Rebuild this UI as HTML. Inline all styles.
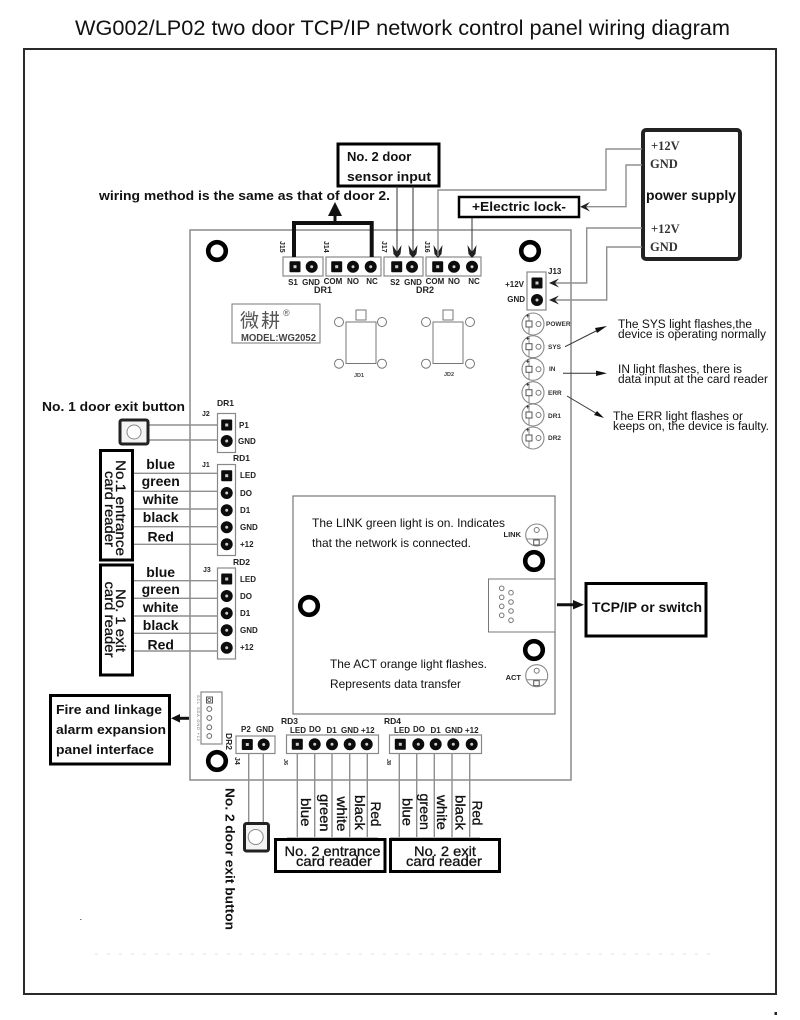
<!DOCTYPE html>
<html lang="en">
<head>
<meta charset="utf-8">
<title>WG002/LP02 wiring diagram</title>
<style>
html,body{margin:0;padding:0;background:#fff;width:800px;height:1020px;overflow:hidden}
svg{display:block;filter:blur(.3px)}
text{font-family:"Liberation Sans","Noto Sans CJK SC",sans-serif;fill:#111}
.b{font-weight:bold;font-size:13px}
.m{font-size:14px;stroke:#111;stroke-width:.3}
.s{font-size:8px;font-weight:bold;fill:#222}
.j{font-size:7px;font-weight:bold;fill:#222}
.c{font-size:14px;font-weight:bold}
.le{font-size:6.5px;font-weight:bold;fill:#333}
.l{font-size:12px}
.n{font-size:11.5px}
.sf{font-family:"Liberation Serif",serif;font-weight:bold;font-size:12.5px;fill:#333}
.w{fill:none;stroke:#8f8f8f;stroke-width:1.4}
.d{fill:none;stroke:#333;stroke-width:1}
.bx{fill:#fff;stroke:#000;stroke-width:3}
.g{fill:#fff;stroke:#888;stroke-width:1.2}
</style>
</head>
<body>
<svg xmlns="http://www.w3.org/2000/svg" width="800" height="1020" viewBox="0 0 800 1020">
<defs>
  <g id="sq"><rect x="-5.5" y="-5.5" width="11" height="11" rx="1" fill="#0c0c0c"/><rect x="-1.5" y="-1.5" width="3" height="3" fill="#ccc"/></g>
  <g id="rd"><circle r="6" fill="#0c0c0c"/><circle r="1.5" fill="#ccc"/></g>
  <g id="hole"><circle r="8.8" fill="#fff" stroke="#000" stroke-width="4.6"/></g>
  <path id="barb" d="M-4.5,-10 L0,-3 L4.5,-10 L3.5,-1 L0,3 L-3.5,-1 Z" fill="#222"/>
  <g id="led">
    <circle r="11" fill="#fff" stroke="#888" stroke-width="1.1"/>
    <path d="M-4,-10 V10" fill="none" stroke="#888" stroke-width="1"/>
    <rect x="-7" y="-3" width="6" height="6" fill="#fff" stroke="#555" stroke-width="1"/>
    <circle cx="5.5" r="2.5" fill="#fff" stroke="#777" stroke-width="1"/>
    <text x="-7" y="-6" style="font-size:6px;font-weight:bold">+</text>
  </g>
  <g id="led2">
    <circle r="11" fill="#fff" stroke="#888" stroke-width="1.1"/>
    <path d="M-10,4 H10" fill="none" stroke="#888" stroke-width="1"/>
    <rect x="-3" y="5" width="5.5" height="5" fill="#fff" stroke="#555" stroke-width="1"/>
    <circle cy="-5" r="2.5" fill="#fff" stroke="#777" stroke-width="1"/>
  </g>
</defs>

<rect width="800" height="1020" fill="#fff"/>

<text x="75" y="35" style="font-size:21px;fill:#111" textLength="655" lengthAdjust="spacingAndGlyphs">WG002/LP02 two door TCP/IP network control panel wiring diagram</text>

<rect x="24" y="49" width="752" height="945" fill="#fff" stroke="#2a2a2a" stroke-width="2"/>
<rect x="774.5" y="1012" width="2.5" height="3" fill="#222"/>
<rect x="80" y="919" width="1.5" height="1" fill="#777"/>
<path d="M95,954 H715" stroke="#e2e2e2" stroke-width="1" stroke-dasharray="3 9" fill="none"/>

<!-- board -->
<rect x="190" y="230" width="381" height="550" fill="#fff" stroke="#8a8a8a" stroke-width="1.5"/>
<use href="#hole" x="217" y="251"/>
<use href="#hole" x="530" y="251"/>
<use href="#hole" x="217" y="761"/>

<!-- top connectors -->
<rect class="g" x="283" y="257" width="40" height="19"/>
<rect class="g" x="326" y="257" width="55" height="19"/>
<rect class="g" x="384" y="257" width="39" height="19"/>
<rect class="g" x="426" y="257" width="55" height="19"/>
<use href="#sq" x="295" y="266.7"/><use href="#rd" x="311.7" y="266.7"/>
<use href="#sq" x="336.7" y="266.7"/><use href="#rd" x="353" y="266.7"/><use href="#rd" x="370.7" y="266.7"/>
<use href="#sq" x="396.7" y="266.7"/><use href="#rd" x="412" y="266.7"/>
<use href="#sq" x="437.7" y="266.7"/><use href="#rd" x="454" y="266.7"/><use href="#rd" x="472" y="266.7"/>

<text class="s" x="293" y="285" text-anchor="middle">S1</text>
<text class="s" x="311" y="285" text-anchor="middle">GND</text>
<text class="s" x="333" y="284" text-anchor="middle">COM</text>
<text class="s" x="353" y="284" text-anchor="middle">NO</text>
<text class="s" x="372" y="284" text-anchor="middle">NC</text>
<text class="s" x="395" y="285" text-anchor="middle">S2</text>
<text class="s" x="413" y="285" text-anchor="middle">GND</text>
<text class="s" x="435" y="284" text-anchor="middle">COM</text>
<text class="s" x="454" y="284" text-anchor="middle">NO</text>
<text class="s" x="474" y="284" text-anchor="middle">NC</text>
<text x="323" y="293" text-anchor="middle" style="font-size:9px;font-weight:bold;fill:#222">DR1</text>
<text x="425" y="293" text-anchor="middle" style="font-size:9px;font-weight:bold;fill:#222">DR2</text>
<text class="j" transform="translate(280,241) rotate(90)">J15</text>
<text class="j" transform="translate(324,241) rotate(90)">J14</text>
<text class="j" transform="translate(382,241) rotate(90)">J17</text>
<text class="j" transform="translate(425,241) rotate(90)">J16</text>

<!-- thick bracket + arrow -->
<path d="M294,257 V223 H371.7 V257" fill="none" stroke="#111" stroke-width="4"/>
<path d="M335,222 V212" fill="none" stroke="#111" stroke-width="3"/>
<path d="M335,202 L342,216 L328,216 Z" fill="#111"/>
<text class="b" x="99" y="200" textLength="291" lengthAdjust="spacingAndGlyphs">wiring method is the same as that of door 2.</text>

<!-- sensor box -->
<rect class="bx" x="338" y="144" width="101" height="42"/>
<text class="b" x="347" y="161">No. 2 door</text>
<text class="b" x="347" y="181" textLength="84" lengthAdjust="spacingAndGlyphs">sensor input</text>
<path class="d" d="M397,186 V256 M413,186 V256 M472,217 V256"/>
<use href="#barb" x="397" y="255"/><use href="#barb" x="413" y="255"/><use href="#barb" x="438" y="255"/><use href="#barb" x="472" y="255"/>

<!-- electric lock -->
<rect class="bx" x="459" y="197" width="120" height="20" style="stroke-width:2.5"/>
<text class="b" x="472" y="211" textLength="94" lengthAdjust="spacingAndGlyphs">+Electric lock-</text>

<!-- power supply -->
<rect x="643" y="130" width="97" height="129" rx="3" fill="#fff" stroke="#222" stroke-width="4"/>
<text class="sf" x="651" y="150">+12V</text>
<text class="sf" x="650" y="168">GND</text>
<text x="646" y="200" style="font-size:14px;font-weight:bold" textLength="90" lengthAdjust="spacingAndGlyphs">power supply</text>
<text class="sf" x="651" y="233">+12V</text>
<text class="sf" x="650" y="251">GND</text>
<path class="w" d="M438,256 V190 H606 V149 H642"/>
<path class="w" d="M642,165 H626 V206.7 H582"/>
<path class="w" d="M642,228 H586.7 V283 H552"/>
<path class="w" d="M642,247 H606.7 V300 H552"/>
<g fill="#222">
<path d="M580,206.7 L590,202 L586,206.7 L590,211.5 Z"/>
<path d="M549,283 L559,278.5 L555,283 L559,287.5 Z"/>
<path d="M549,300 L559,295.5 L555,300 L559,304.5 Z"/>
</g>

<!-- J13 -->
<rect class="g" x="527" y="272" width="19" height="38"/>
<use href="#sq" x="537" y="283"/><use href="#rd" x="537" y="300"/>
<text class="s" x="548" y="274">J13</text>
<text class="s" x="524" y="287" text-anchor="end">+12V</text>
<text class="s" x="525" y="302" text-anchor="end">GND</text>

<!-- LEDs -->
<use href="#led" x="533" y="324"/><use href="#led" x="533" y="346.7"/><use href="#led" x="533" y="369.3"/>
<use href="#led" x="533" y="392.7"/><use href="#led" x="533" y="415"/><use href="#led" x="533" y="438"/>
<text class="le" x="546" y="326">POWER</text>
<text class="le" x="548" y="349">SYS</text>
<text class="le" x="549" y="371">IN</text>
<text class="le" x="548" y="395">ERR</text>
<text class="le" x="548" y="418">DR1</text>
<text class="le" x="548" y="440">DR2</text>

<!-- annotation arrows -->
<path class="d" d="M565,346.7 L600,329 M563,373.3 L600,373.3 M567,396 L599,415"/>
<path d="M607,326 L597,333 L595,328 Z" fill="#111"/>
<path d="M607,373.3 L596,376 L596,370.6 Z" fill="#111"/>
<path d="M604,418 L594,415 L597,411 Z" fill="#111"/>
<text class="n" x="618" y="328" textLength="134" lengthAdjust="spacingAndGlyphs">The SYS light flashes,the</text>
<text class="n" x="618" y="338" textLength="148" lengthAdjust="spacingAndGlyphs">device is operating normally</text>
<text class="n" x="618" y="373" textLength="124" lengthAdjust="spacingAndGlyphs">IN light flashes, there is</text>
<text class="n" x="618" y="383" textLength="150" lengthAdjust="spacingAndGlyphs">data input at the card reader</text>
<text class="n" x="613" y="420" textLength="130" lengthAdjust="spacingAndGlyphs">The ERR light flashes or</text>
<text class="n" x="613" y="430" textLength="156" lengthAdjust="spacingAndGlyphs">keeps on, the device is faulty.</text>

<!-- logo -->
<rect x="232" y="304" width="88" height="39" fill="#fff" stroke="#777" stroke-width="1"/>
<text x="240" y="327" style="font-size:19px;fill:#555" textLength="40">微耕</text>
<text x="283" y="316" style="font-size:9px;fill:#555">®</text>
<text x="241" y="341" style="font-size:10px;font-weight:bold;fill:#444" textLength="75" lengthAdjust="spacingAndGlyphs">MODEL:WG2052</text>

<!-- relays -->
<g fill="#fff" stroke="#777" stroke-width="1">
<rect x="346" y="322" width="30" height="41.5"/><rect x="356" y="310" width="10" height="10"/>
<circle cx="339" cy="322" r="4.5"/><circle cx="382" cy="322" r="4.5"/><circle cx="339" cy="363.7" r="4.5"/><circle cx="382" cy="363.7" r="4.5"/>
<rect x="433" y="322" width="30" height="41.5"/><rect x="443" y="310" width="10" height="10"/>
<circle cx="426" cy="322" r="4.5"/><circle cx="470" cy="322" r="4.5"/><circle cx="426" cy="363.7" r="4.5"/><circle cx="470" cy="363.7" r="4.5"/>
</g>
<text x="359" y="377" text-anchor="middle" style="font-size:5.5px;font-weight:bold;fill:#444">JD1</text>
<text x="449" y="376" text-anchor="middle" style="font-size:5.5px;font-weight:bold;fill:#444">JD2</text>

<!-- left side: J2 -->
<text class="b" x="42" y="411" textLength="143" lengthAdjust="spacingAndGlyphs">No. 1 door exit button</text>
<path class="w" d="M148,425 H218 M148,440 H218"/>
<rect x="120" y="420" width="28" height="24" rx="2" fill="#f4f4f4" stroke="#222" stroke-width="3"/>
<circle cx="134" cy="432" r="7" fill="#fff" stroke="#888" stroke-width="1"/>
<rect class="g" x="217.5" y="413.5" width="18" height="39"/>
<use href="#sq" x="226.7" y="425"/><use href="#rd" x="226.7" y="441"/>
<text class="s" x="239" y="428">P1</text>
<text class="s" x="238" y="444">GND</text>
<text x="217" y="406" style="font-size:8.5px;font-weight:bold;fill:#222">DR1</text>
<text class="j" x="202" y="416">J2</text>

<!-- J1 -->
<rect class="g" x="217.5" y="464.5" width="18" height="91"/>
<use href="#sq" x="226.7" y="475.7"/><use href="#rd" x="226.7" y="493"/><use href="#rd" x="226.7" y="510.3"/><use href="#rd" x="226.7" y="527.3"/><use href="#rd" x="226.7" y="544.3"/>
<text class="s" x="240" y="478">LED</text><text class="s" x="240" y="496">DO</text><text class="s" x="240" y="513">D1</text><text class="s" x="240" y="530">GND</text><text class="s" x="240" y="547">+12</text>
<text x="233" y="461" style="font-size:8.5px;font-weight:bold;fill:#222">RD1</text>
<text class="j" x="202" y="467">J1</text>
<!-- J3 -->
<rect class="g" x="217.5" y="568" width="18" height="91"/>
<use href="#sq" x="226.7" y="579"/><use href="#rd" x="226.7" y="596"/><use href="#rd" x="226.7" y="613.3"/><use href="#rd" x="226.7" y="630.3"/><use href="#rd" x="226.7" y="647.7"/>
<text class="s" x="240" y="582">LED</text><text class="s" x="240" y="599">DO</text><text class="s" x="240" y="616">D1</text><text class="s" x="240" y="633">GND</text><text class="s" x="240" y="650">+12</text>
<text x="233" y="565" style="font-size:8.5px;font-weight:bold;fill:#222">RD2</text>
<text class="j" x="203" y="572">J3</text>

<path class="w" d="M133,473.3 H218 M133,491.3 H218 M133,509 H218 M133,526.7 H218 M133,544.3 H218 M133,580.7 H218 M133,598.3 H218 M133,616 H218 M133,633.3 H218 M133,651 H218"/>

<rect class="bx" x="100.5" y="450.5" width="32" height="109.5"/>
<rect class="bx" x="100.5" y="565" width="32" height="110"/>
<text class="m" transform="translate(116,460) rotate(90)" textLength="96" lengthAdjust="spacingAndGlyphs">No.1 entrance</text>
<text class="m" transform="translate(105,471) rotate(90)" textLength="76" lengthAdjust="spacingAndGlyphs">card reader</text>
<text class="m" transform="translate(116,589) rotate(90)" textLength="63" lengthAdjust="spacingAndGlyphs">No. 1 exit</text>
<text class="m" transform="translate(105,581.5) rotate(90)" textLength="76" lengthAdjust="spacingAndGlyphs">card reader</text>

<text class="c" x="160.7" y="469" text-anchor="middle">blue</text>
<text class="c" x="160.7" y="486" text-anchor="middle">green</text>
<text class="c" x="160.7" y="504" text-anchor="middle">white</text>
<text class="c" x="160.7" y="522" text-anchor="middle">black</text>
<text class="c" x="160.7" y="541.7" text-anchor="middle">Red</text>
<text class="c" x="160.7" y="577" text-anchor="middle">blue</text>
<text class="c" x="160.7" y="594" text-anchor="middle">green</text>
<text class="c" x="160.7" y="612" text-anchor="middle">white</text>
<text class="c" x="160.7" y="630" text-anchor="middle">black</text>
<text class="c" x="160.7" y="649.5" text-anchor="middle">Red</text>

<!-- fire box -->
<rect class="bx" x="50.5" y="695.5" width="119" height="68.5"/>
<text class="b" x="56" y="714" textLength="106" lengthAdjust="spacingAndGlyphs">Fire and linkage</text>
<text class="b" x="56" y="734" textLength="110" lengthAdjust="spacingAndGlyphs">alarm expansion</text>
<text class="b" x="56" y="754" textLength="98" lengthAdjust="spacingAndGlyphs">panel interface</text>
<path d="M189,718.3 H178" stroke="#111" stroke-width="3" fill="none"/>
<path d="M171,718.3 L180,714 L180,722.6 Z" fill="#111"/>

<!-- expansion connector -->
<rect class="g" x="201" y="692" width="21" height="52"/>
<rect x="206.5" y="697" width="6" height="6" fill="#fff" stroke="#555"/><circle cx="209.3" cy="700" r="1.6" fill="none" stroke="#666"/>
<g fill="#fff" stroke="#666" stroke-width="1"><circle cx="209.3" cy="709" r="2.4"/><circle cx="209.3" cy="718" r="2.4"/><circle cx="209.3" cy="727.3" r="2.4"/><circle cx="209.3" cy="736" r="2.4"/></g>
<text transform="translate(197,695) rotate(90)" style="font-size:4px;fill:#666" textLength="46">SCL SDA GND  +12</text>

<!-- J4 -->
<rect class="g" x="236" y="736" width="39" height="17.5"/>
<use href="#sq" x="247.3" y="744.5"/><use href="#rd" x="263.7" y="744.5"/>
<text class="s" x="241" y="732">P2</text>
<text class="s" x="256" y="732">GND</text>
<text transform="translate(226,733) rotate(90)" style="font-size:8.5px;font-weight:bold;fill:#222">DR2</text>
<text class="j" transform="translate(235,757) rotate(90)">J4</text>
<path class="w" d="M248.7,753 V822 M263.3,753 V822"/>
<rect x="244.5" y="823.5" width="24" height="27.5" rx="2" fill="#f4f4f4" stroke="#222" stroke-width="3"/>
<circle cx="255.7" cy="837" r="7.5" fill="#fff" stroke="#888"/>
<text class="b" transform="translate(225.7,788) rotate(90)" textLength="142" lengthAdjust="spacingAndGlyphs">No. 2 door exit button</text>

<!-- RD3 / RD4 -->
<rect class="g" x="286.5" y="735" width="92" height="18.5"/>
<rect class="g" x="389.5" y="735" width="92" height="18.5"/>
<use href="#sq" x="297.3" y="744.3"/><use href="#rd" x="314.7" y="744.3"/><use href="#rd" x="332" y="744.3"/><use href="#rd" x="349.7" y="744.3"/><use href="#rd" x="366.7" y="744.3"/>
<use href="#sq" x="400.3" y="744.3"/><use href="#rd" x="418.3" y="744.3"/><use href="#rd" x="435.7" y="744.3"/><use href="#rd" x="453.3" y="744.3"/><use href="#rd" x="471.7" y="744.3"/>
<text class="s" x="290" y="733">LED</text><text class="s" x="309" y="732">DO</text><text class="s" x="326.5" y="733">D1</text><text class="s" x="341" y="733">GND</text><text class="s" x="361" y="733">+12</text>
<text class="s" x="394" y="733">LED</text><text class="s" x="413" y="732">DO</text><text class="s" x="430.5" y="733">D1</text><text class="s" x="445" y="733">GND</text><text class="s" x="465" y="733">+12</text>
<text x="281" y="724" style="font-size:8.5px;font-weight:bold;fill:#222">RD3</text>
<text x="384" y="724" style="font-size:8.5px;font-weight:bold;fill:#222">RD4</text>
<text class="j" transform="translate(284,759) rotate(90)" style="font-size:5.5px">J6</text>
<text class="j" transform="translate(387,759) rotate(90)" style="font-size:5.5px">J8</text>

<path class="w" d="M297.3,753 V837 M314.7,753 V837 M332,753 V837 M349.7,753 V837 M367.3,753 V837 M399.3,753 V837 M416.7,753 V837 M434.3,753 V837 M452,753 V837 M469.7,753 V837"/>
<path d="M287,837.5 H378 M390,837.5 H480" stroke="#bbb" stroke-width="1" fill="none"/>

<text class="m" transform="translate(301,798) rotate(90)" textLength="28.5" lengthAdjust="spacingAndGlyphs">blue</text>
<text class="m" transform="translate(320,794) rotate(90)" textLength="37.5" lengthAdjust="spacingAndGlyphs">green</text>
<text class="m" transform="translate(337,796.5) rotate(90)" textLength="35" lengthAdjust="spacingAndGlyphs">white</text>
<text class="m" transform="translate(355,795) rotate(90)" textLength="35" lengthAdjust="spacingAndGlyphs">black</text>
<text class="m" transform="translate(371,801.5) rotate(90)" textLength="25" lengthAdjust="spacingAndGlyphs">Red</text>
<text class="m" transform="translate(402.5,798) rotate(90)" textLength="28" lengthAdjust="spacingAndGlyphs">blue</text>
<text class="m" transform="translate(420,793.5) rotate(90)" textLength="36.5" lengthAdjust="spacingAndGlyphs">green</text>
<text class="m" transform="translate(437,795) rotate(90)" textLength="35" lengthAdjust="spacingAndGlyphs">white</text>
<text class="m" transform="translate(455.5,795) rotate(90)" textLength="35" lengthAdjust="spacingAndGlyphs">black</text>
<text class="m" transform="translate(472.5,800.5) rotate(90)" textLength="25" lengthAdjust="spacingAndGlyphs">Red</text>

<rect class="bx" x="275.5" y="839.5" width="109.5" height="32"/>
<rect class="bx" x="390.5" y="839.5" width="109" height="32"/>
<text class="m" x="332.5" y="856" text-anchor="middle" textLength="96" lengthAdjust="spacingAndGlyphs">No. 2 entrance</text>
<text class="m" x="334" y="866" text-anchor="middle" textLength="76" lengthAdjust="spacingAndGlyphs">card reader</text>
<text class="m" x="445" y="856" text-anchor="middle" textLength="62" lengthAdjust="spacingAndGlyphs">No. 2 exit</text>
<text class="m" x="444" y="866" text-anchor="middle" textLength="76" lengthAdjust="spacingAndGlyphs">card reader</text>

<!-- network module -->
<rect x="293" y="496" width="262" height="218" fill="#fff" stroke="#777" stroke-width="1.2"/>
<use href="#hole" x="534" y="561"/>
<use href="#hole" x="309" y="606"/>
<use href="#hole" x="534" y="650"/>
<rect x="488.5" y="579" width="66.5" height="53" fill="#fff" stroke="#777" stroke-width="1"/>
<g fill="#fff" stroke="#777" stroke-width="1">
<circle cx="501.7" cy="588.3" r="2.3"/><circle cx="501.7" cy="597.3" r="2.3"/><circle cx="501.7" cy="606.3" r="2.3"/><circle cx="501.7" cy="615.3" r="2.3"/>
<circle cx="511" cy="592.7" r="2.3"/><circle cx="511" cy="602" r="2.3"/><circle cx="511" cy="611" r="2.3"/><circle cx="511" cy="620.3" r="2.3"/>
</g>
<use href="#led2" x="536.7" y="535"/>
<use href="#led2" x="536.7" y="675.7"/>
<text x="521" y="537" text-anchor="end" style="font-size:7.5px;font-weight:bold;fill:#222">LINK</text>
<text x="521" y="680" text-anchor="end" style="font-size:7.5px;font-weight:bold;fill:#222">ACT</text>
<text class="l" x="312" y="527" textLength="193" lengthAdjust="spacingAndGlyphs">The LINK green light is on. Indicates</text>
<text class="l" x="312" y="547" textLength="159" lengthAdjust="spacingAndGlyphs">that the network is connected.</text>
<text class="l" x="330" y="668" textLength="157" lengthAdjust="spacingAndGlyphs">The ACT orange light flashes.</text>
<text class="l" x="330" y="688" textLength="131" lengthAdjust="spacingAndGlyphs">Represents data transfer</text>

<!-- TCP arrow/box -->
<path d="M557,604.7 H575" stroke="#111" stroke-width="3" fill="none"/>
<path d="M584,604.7 L573,600 L573,609.4 Z" fill="#111"/>
<rect class="bx" x="586" y="583.5" width="120" height="52.5"/>
<text x="592" y="612" style="font-size:14px;font-weight:bold" textLength="110" lengthAdjust="spacingAndGlyphs">TCP/IP or switch</text>
</svg>
</body>
</html>
